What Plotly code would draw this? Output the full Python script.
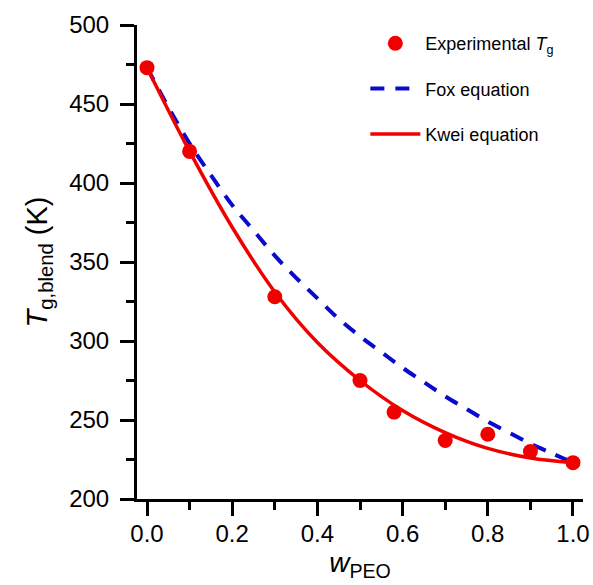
import plotly.graph_objects as go

# Experimental data
exp_w = [0.0, 0.1, 0.3, 0.5, 0.58, 0.7, 0.8, 0.9, 1.0]
exp_tg = [473, 420, 328, 275, 255, 237, 241, 230, 223]

# Fox equation curve
fox_w = [0.0, 0.05, 0.1, 0.15, 0.2, 0.25, 0.3, 0.35, 0.4, 0.45, 0.5,
         0.55, 0.6, 0.65, 0.7, 0.75, 0.8, 0.85, 0.9, 0.95, 1.0]
fox_tg = [473, 448, 425, 405, 386, 370, 354, 340, 327, 314, 303,
          293, 283, 274, 265, 257, 249, 242, 235, 229, 223]

# Kwei equation curve
kwei_w = [0.0, 0.1, 0.2, 0.3, 0.4, 0.5, 0.6, 0.7, 0.8, 0.9, 1.0]
kwei_tg = [473, 420, 372, 331, 299, 275, 256, 242, 232, 226, 223]

x_ticks = [0.0, 0.2, 0.4, 0.6, 0.8, 1.0]
y_ticks = [200, 250, 300, 350, 400, 450, 500]

RED = "#f20000"
BLUE = "#0a0acd"
FONT = "Liberation Sans, Arial, sans-serif"

fig = go.Figure()
fig.add_trace(go.Scatter(
    x=fox_w, y=fox_tg, mode="lines", name="Fox equation",
    line=dict(color=BLUE, width=4, dash="14px,11px", shape="spline"),
    legendgroup="b", legendrank=2))
fig.add_trace(go.Scatter(
    x=kwei_w, y=kwei_tg, mode="lines", name="Kwei equation",
    line=dict(color=RED, width=3.5, shape="spline"),
    legendgroup="c", legendrank=3))
fig.add_trace(go.Scatter(
    x=exp_w, y=exp_tg, mode="markers", name="Experimental <i>T</i><sub>g</sub>",
    marker=dict(color=RED, size=15, line=dict(width=0)),
    legendgroup="a", legendrank=1))

fig.update_layout(
    width=593, height=585,
    margin=dict(l=137, r=10, t=25, b=86),
    plot_bgcolor="white", paper_bgcolor="white",
    font=dict(family=FONT, size=20, color="black"),
    showlegend=True,
    legend=dict(x=0.512, y=1.0, xanchor="left", yanchor="top",
                font=dict(size=18, family=FONT), traceorder="grouped",
                tracegroupgap=19, bgcolor="rgba(0,0,0,0)", itemwidth=50),
    xaxis=dict(range=[-0.0235, 1.0235], tickvals=x_ticks,
               ticktext=[f"{v:.1f}" for v in x_ticks],
               automargin=False,
               showline=True, linecolor="black", linewidth=3,
               ticks="outside", ticklen=14, tickwidth=3, tickcolor="black",
               minor=dict(dtick=0.1, tick0=0, ticks="outside", ticklen=8, tickwidth=3, tickcolor="black"),
               showgrid=False, zeroline=False, mirror=False,
               tickfont=dict(size=24), ticklabelstandoff=-3,
               ticklabeloverflow="allow",
               title=dict(text="<i>w</i><sub>PEO</sub>", font=dict(size=28), standoff=1)),
    yaxis=dict(range=[200, 500], tickvals=y_ticks,
               automargin=False,
               showline=True, linecolor="black", linewidth=3,
               ticks="outside", ticklen=14, tickwidth=3, tickcolor="black",
               minor=dict(dtick=25, tick0=200, ticks="outside", ticklen=8, tickwidth=3, tickcolor="black"),
               showgrid=False, zeroline=False, mirror=False,
               tickfont=dict(size=24), ticklabelstandoff=6,
               ticklabeloverflow="allow",
               title=dict(text="<i>T</i><sub>g,blend</sub> (K)", font=dict(size=29), standoff=14)),
)

fig.write_html("out.html", config={"displayModeBar": False},
               post_script="document.body.style.margin='0';document.body.style.overflow='hidden';")
